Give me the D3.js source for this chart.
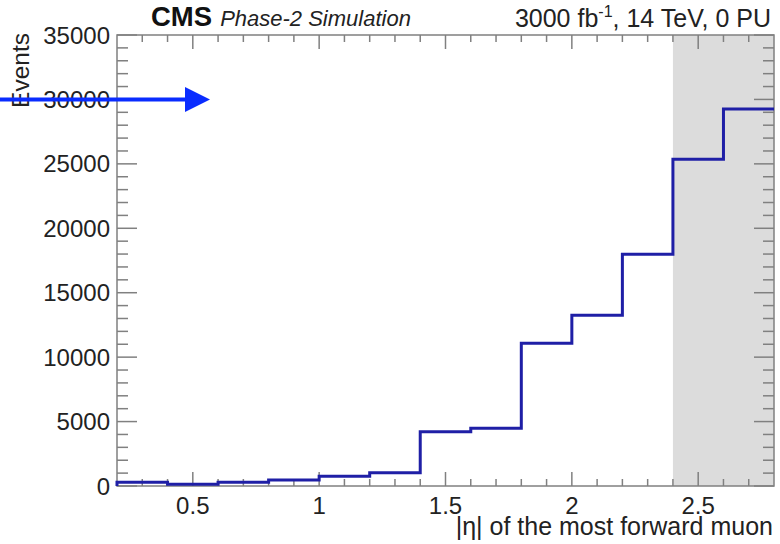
<!DOCTYPE html>
<html>
<head>
<meta charset="utf-8">
<script src="https://cdn.jsdelivr.net/npm/d3@7/dist/d3.min.js"></script>
<style>
  html, body { margin: 0; padding: 0; background: #fff; }
  svg { display: block; }
  text { font-family: "Liberation Sans", Arial, Helvetica, sans-serif; fill: #222; }
</style>
</head>
<body>
<svg id="chart" width="780" height="544"></svg>
<script>
// Histogram: |eta| of the most forward muon, bins of 0.2
const binEdges = [0.2, 0.4, 0.6, 0.8, 1.0, 1.2, 1.4, 1.6, 1.8, 2.0, 2.2, 2.4, 2.6, 2.8];
const binCounts = [287, 132, 287, 466, 753, 1032, 4214, 4478, 11074, 13247, 17981, 25353, 29257];
const xTickLabels = [0.5, 1, 1.5, 2, 2.5];
const yTickLabels = [0, 5000, 10000, 15000, 20000, 25000, 30000, 35000];
const shadedRange = [2.4, 2.8];
const arrowLevel = 30000;

const plotLeft = 117, plotRight = 774, plotTop = 35, plotBottom = 486;

const svg = d3.select("#chart");

const x = d3.scaleLinear().domain([0.2, 2.8]).range([plotLeft, plotRight]);
const y = d3.scaleLinear().domain([0, 35000]).range([plotBottom, plotTop]);

const axisColor = "#808080";
const histColor = "#1f1fa6";

// shaded acceptance region
svg.append("rect")
  .attr("x", x(shadedRange[0]))
  .attr("y", plotTop)
  .attr("width", x(shadedRange[1]) - x(shadedRange[0]))
  .attr("height", plotBottom - plotTop)
  .attr("fill", "#dcdcdc");

// frame ticks
const xMinor = d3.range(3, 28).map(d => d / 10);
const yMinor = d3.range(0, 36).map(d => d * 1000);
const isXMajor = v => Math.abs(v * 2 - Math.round(v * 2)) < 1e-6;
const isYMajor = v => v % 5000 === 0;

const ticks = svg.append("g").attr("stroke", axisColor).attr("stroke-width", 1.5);
xMinor.forEach(v => {
  const len = isXMajor(v) ? 14 : 7;
  ticks.append("line").attr("x1", x(v)).attr("x2", x(v)).attr("y1", plotBottom).attr("y2", plotBottom - len);
  ticks.append("line").attr("x1", x(v)).attr("x2", x(v)).attr("y1", plotTop).attr("y2", plotTop + len);
});
yMinor.forEach(v => {
  const len = isYMajor(v) ? 20 : 11;
  ticks.append("line").attr("x1", plotLeft).attr("x2", plotLeft + len).attr("y1", y(v)).attr("y2", y(v));
  ticks.append("line").attr("x1", plotRight).attr("x2", plotRight - len).attr("y1", y(v)).attr("y2", y(v));
});

// frame
svg.append("rect")
  .attr("x", plotLeft).attr("y", plotTop)
  .attr("width", plotRight - plotLeft).attr("height", plotBottom - plotTop)
  .attr("fill", "none").attr("stroke", axisColor).attr("stroke-width", 1.5);

// step histogram outline
const pts = [[binEdges[0], 0]];
binCounts.forEach((c, i) => {
  pts.push([binEdges[i], c]);
  pts.push([binEdges[i + 1], c]);
});
const line = d3.line().x(d => x(d[0])).y(d => y(d[1]));
svg.append("path")
  .attr("d", line(pts))
  .attr("fill", "none")
  .attr("stroke", histColor)
  .attr("stroke-width", 3)
  .attr("stroke-linejoin", "miter");

// tick labels
svg.append("g").selectAll("text").data(xTickLabels).join("text")
  .attr("x", d => x(d)).attr("y", 514)
  .attr("text-anchor", "middle")
  .attr("font-size", 24)
  .text(d => d);

svg.append("g").selectAll("text").data(yTickLabels).join("text")
  .attr("x", 110).attr("y", d => y(d) + 8.5)
  .attr("text-anchor", "end")
  .attr("font-size", 24)
  .text(d => d);

// axis titles
svg.append("text")
  .attr("x", 773).attr("y", 535)
  .attr("text-anchor", "end")
  .attr("font-size", 25)
  .text("|η| of the most forward muon");

svg.append("text")
  .attr("transform", "translate(29,33) rotate(-90)")
  .attr("text-anchor", "end")
  .attr("font-size", 24.5)
  .text("Events");

// header
const head = svg.append("text").attr("x", 151).attr("y", 26);
head.append("tspan").attr("font-weight", "bold").attr("font-size", 27.5).attr("fill", "#111").text("CMS");
head.append("tspan").attr("font-style", "italic").attr("font-size", 22).attr("dx", 8).text("Phase-2 Simulation");

const lumi = svg.append("text").attr("x", 771).attr("y", 27).attr("text-anchor", "end").attr("font-size", 25);
lumi.append("tspan").text("3000 fb");
lumi.append("tspan").attr("font-size", 16).attr("dy", -10).text("-1");
lumi.append("tspan").attr("dy", 10).text(", 14 TeV, 0 PU");

// arrow marker at the 30000 level
const ay = y(arrowLevel);
const arrowColor = "#0a2cff";
svg.append("line")
  .attr("x1", 0).attr("x2", 190).attr("y1", ay).attr("y2", ay)
  .attr("stroke", arrowColor).attr("stroke-width", 4);
svg.append("path")
  .attr("d", `M185,${ay - 12.5} L210,${ay} L185,${ay + 12.5} Z`)
  .attr("fill", arrowColor);
</script>
</body>
</html>
